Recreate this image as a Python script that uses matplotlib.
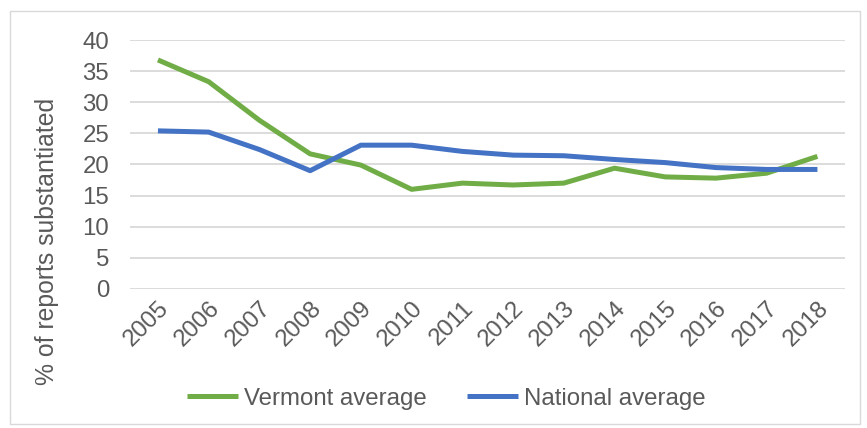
import matplotlib.pyplot as plt
from matplotlib.patches import Rectangle

plt.rcParams['font.family'] = ['Liberation Sans', 'DejaVu Sans']

years = ['2005', '2006', '2007', '2008', '2009', '2010', '2011',
         '2012', '2013', '2014', '2015', '2016', '2017', '2018']
vermont = [36.8, 33.3, 27.1, 21.7, 19.9, 16.0, 17.0,
           16.7, 17.0, 19.4, 18.0, 17.8, 18.6, 21.3]
national = [25.4, 25.2, 22.4, 19.0, 23.1, 23.1, 22.1,
            21.5, 21.4, 20.8, 20.3, 19.5, 19.2, 19.2]

green = '#70AD47'
blue = '#4472C4'
gray = '#595959'
fs = 17.3

fig = plt.figure(figsize=(8.67, 4.28), dpi=100)
ax = fig.add_axes([0.15, 0.325, 0.825, 0.5815])

x = range(len(years))
ax.plot(x, vermont, color=green, lw=3.6, label='Vermont average', solid_capstyle='butt')
ax.plot(x, national, color=blue, lw=3.6, label='National average', solid_capstyle='butt')

ax.set_ylim(0, 40)
ax.set_yticks(range(0, 41, 5))
ax.set_xlim(-0.55, len(years) - 0.45)
ax.set_xticks(list(x))
ax.set_xticklabels(years, rotation=45, ha='right', va='top', rotation_mode='anchor')
ax.tick_params(axis='both', length=0, labelsize=fs, colors=gray)
ax.tick_params(axis='x', pad=6)
ax.tick_params(axis='y', pad=15)
ax.grid(axis='y', color='#D9D9D9', lw=1.3)
ax.set_axisbelow(True)
for s in ax.spines.values():
    s.set_visible(False)

ax.set_ylabel('% of reports substantiated', fontsize=fs + 0.5, color=gray)
ax.yaxis.set_label_coords(-0.10, 0.19)

fig.legend(loc='center', bbox_to_anchor=(0.515, 0.068), ncol=2, frameon=False,
           fontsize=fs, labelcolor=gray, handlelength=2.1, columnspacing=1.7,
           handletextpad=0.25)

fig.patches.append(Rectangle((0.012, 0.01), 0.98, 0.965, transform=fig.transFigure,
                             fill=False, edgecolor='#D9D9D9', lw=1))

fig.savefig('out.png', dpi=100)
